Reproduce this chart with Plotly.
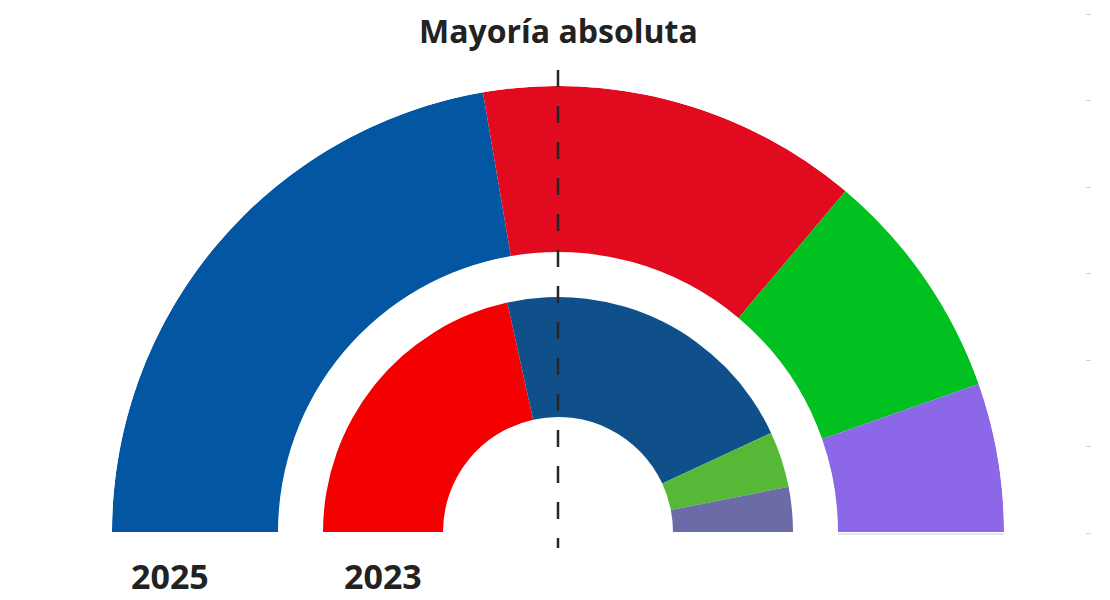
import plotly.graph_objects as go

# Escaños Asamblea de Extremadura (65 escaños, mayoría absoluta 33)
partidos = ['PP', 'PSOE', 'Vox', 'UPE']
escanos_2025 = [29, 18, 11, 7]
colores_2025 = ['#0356A2', '#E10A1E', '#00C11F', '#8C68E8']

partidos_2023 = ['PSOE', 'PP', 'Vox', 'UPE']
escanos_2023 = [28, 28, 5, 4]
colores_2023 = ['#F50000', '#10508A', '#55B937', '#6B6BA8']

etiquetas = ['2025', '2023']
ticks_derecha = [0, 1, 2, 3, 4, 5, 6]

W, H = 1110, 600


def anillo(escanos, colores, nombres, base, grosor):
    total = sum(escanos)
    theta, ancho = [], []
    acum = 0
    for e in escanos:
        ancho.append(e * 180 / total)
        theta.append((acum + e / 2) * 180 / total)
        acum += e
    return go.Barpolar(
        theta=theta, width=ancho, r=[grosor] * len(escanos), base=[base] * len(escanos),
        marker=dict(color=colores, line=dict(width=0)),
        text=nombres, customdata=escanos,
        hovertemplate='%{text}: %{customdata}<extra></extra>',
        showlegend=False,
    )


fig = go.Figure()
# anillo exterior 2025 / interior 2023
fig.add_trace(anillo(escanos_2025, colores_2025, partidos, 280 / 446, 166 / 446))
fig.add_trace(anillo(escanos_2023, colores_2023, partidos_2023, 115 / 446, 120 / 446))

# eje fantasma para las marcas grises de la derecha
fig.add_trace(go.Scatter(x=[None], y=[None], showlegend=False, hoverinfo='skip'))

fig.update_layout(
    width=W, height=H,
    margin=dict(l=0, r=0, t=0, b=0),
    paper_bgcolor='white', plot_bgcolor='white',
    polar=dict(
        domain=dict(x=[104 / W, 996 / W], y=[76 / H, 522 / H]),
        sector=[0, 180],
        bgcolor='rgba(0,0,0,0)',
        radialaxis=dict(visible=False, range=[0, 1]),
        angularaxis=dict(visible=False, direction='clockwise', rotation=180),
    ),
    xaxis=dict(domain=[0, 1077 / W], visible=False),
    yaxis=dict(domain=[75 / H, 594 / H], range=[0, 6], side='right',
               tickvals=ticks_derecha, ticks='outside', ticklen=5, tickwidth=1,
               tickcolor='#d4d4d4', showticklabels=False, showgrid=False,
               zeroline=False, showline=False),
    font=dict(family='Open Sans', color='#222'),
    shapes=[
        # línea de mayoría absoluta (33 escaños)
        dict(type='line', xref='paper', yref='paper', x0=550 / W, x1=550 / W,
             y0=1 - 62 / H, y1=1 - 540 / H,
             line=dict(color='#262626', width=2.5, dash='17px,19px')),
        dict(type='line', xref='paper', yref='paper', x0=830 / W, x1=996 / W,
             y0=74 / H, y1=74 / H, line=dict(color='#E2E4EC', width=2)),
    ],
    annotations=[
        dict(text='<b>Mayoría absoluta</b>', x=550 / W, y=1, xref='paper', yref='paper',
             xanchor='center', yanchor='top', borderpad=0, showarrow=False,
             font=dict(size=32, color='#222')),
        dict(text='<b>%s</b>' % etiquetas[0], x=162 / W, y=1 - 568 / H, xref='paper', yref='paper',
             xanchor='center', yanchor='middle', showarrow=False, font=dict(size=34, color='#222')),
        dict(text='<b>%s</b>' % etiquetas[1], x=375 / W, y=1 - 568 / H, xref='paper', yref='paper',
             xanchor='center', yanchor='middle', showarrow=False, font=dict(size=34, color='#222')),
    ],
)

fig.write_html("out.html")
